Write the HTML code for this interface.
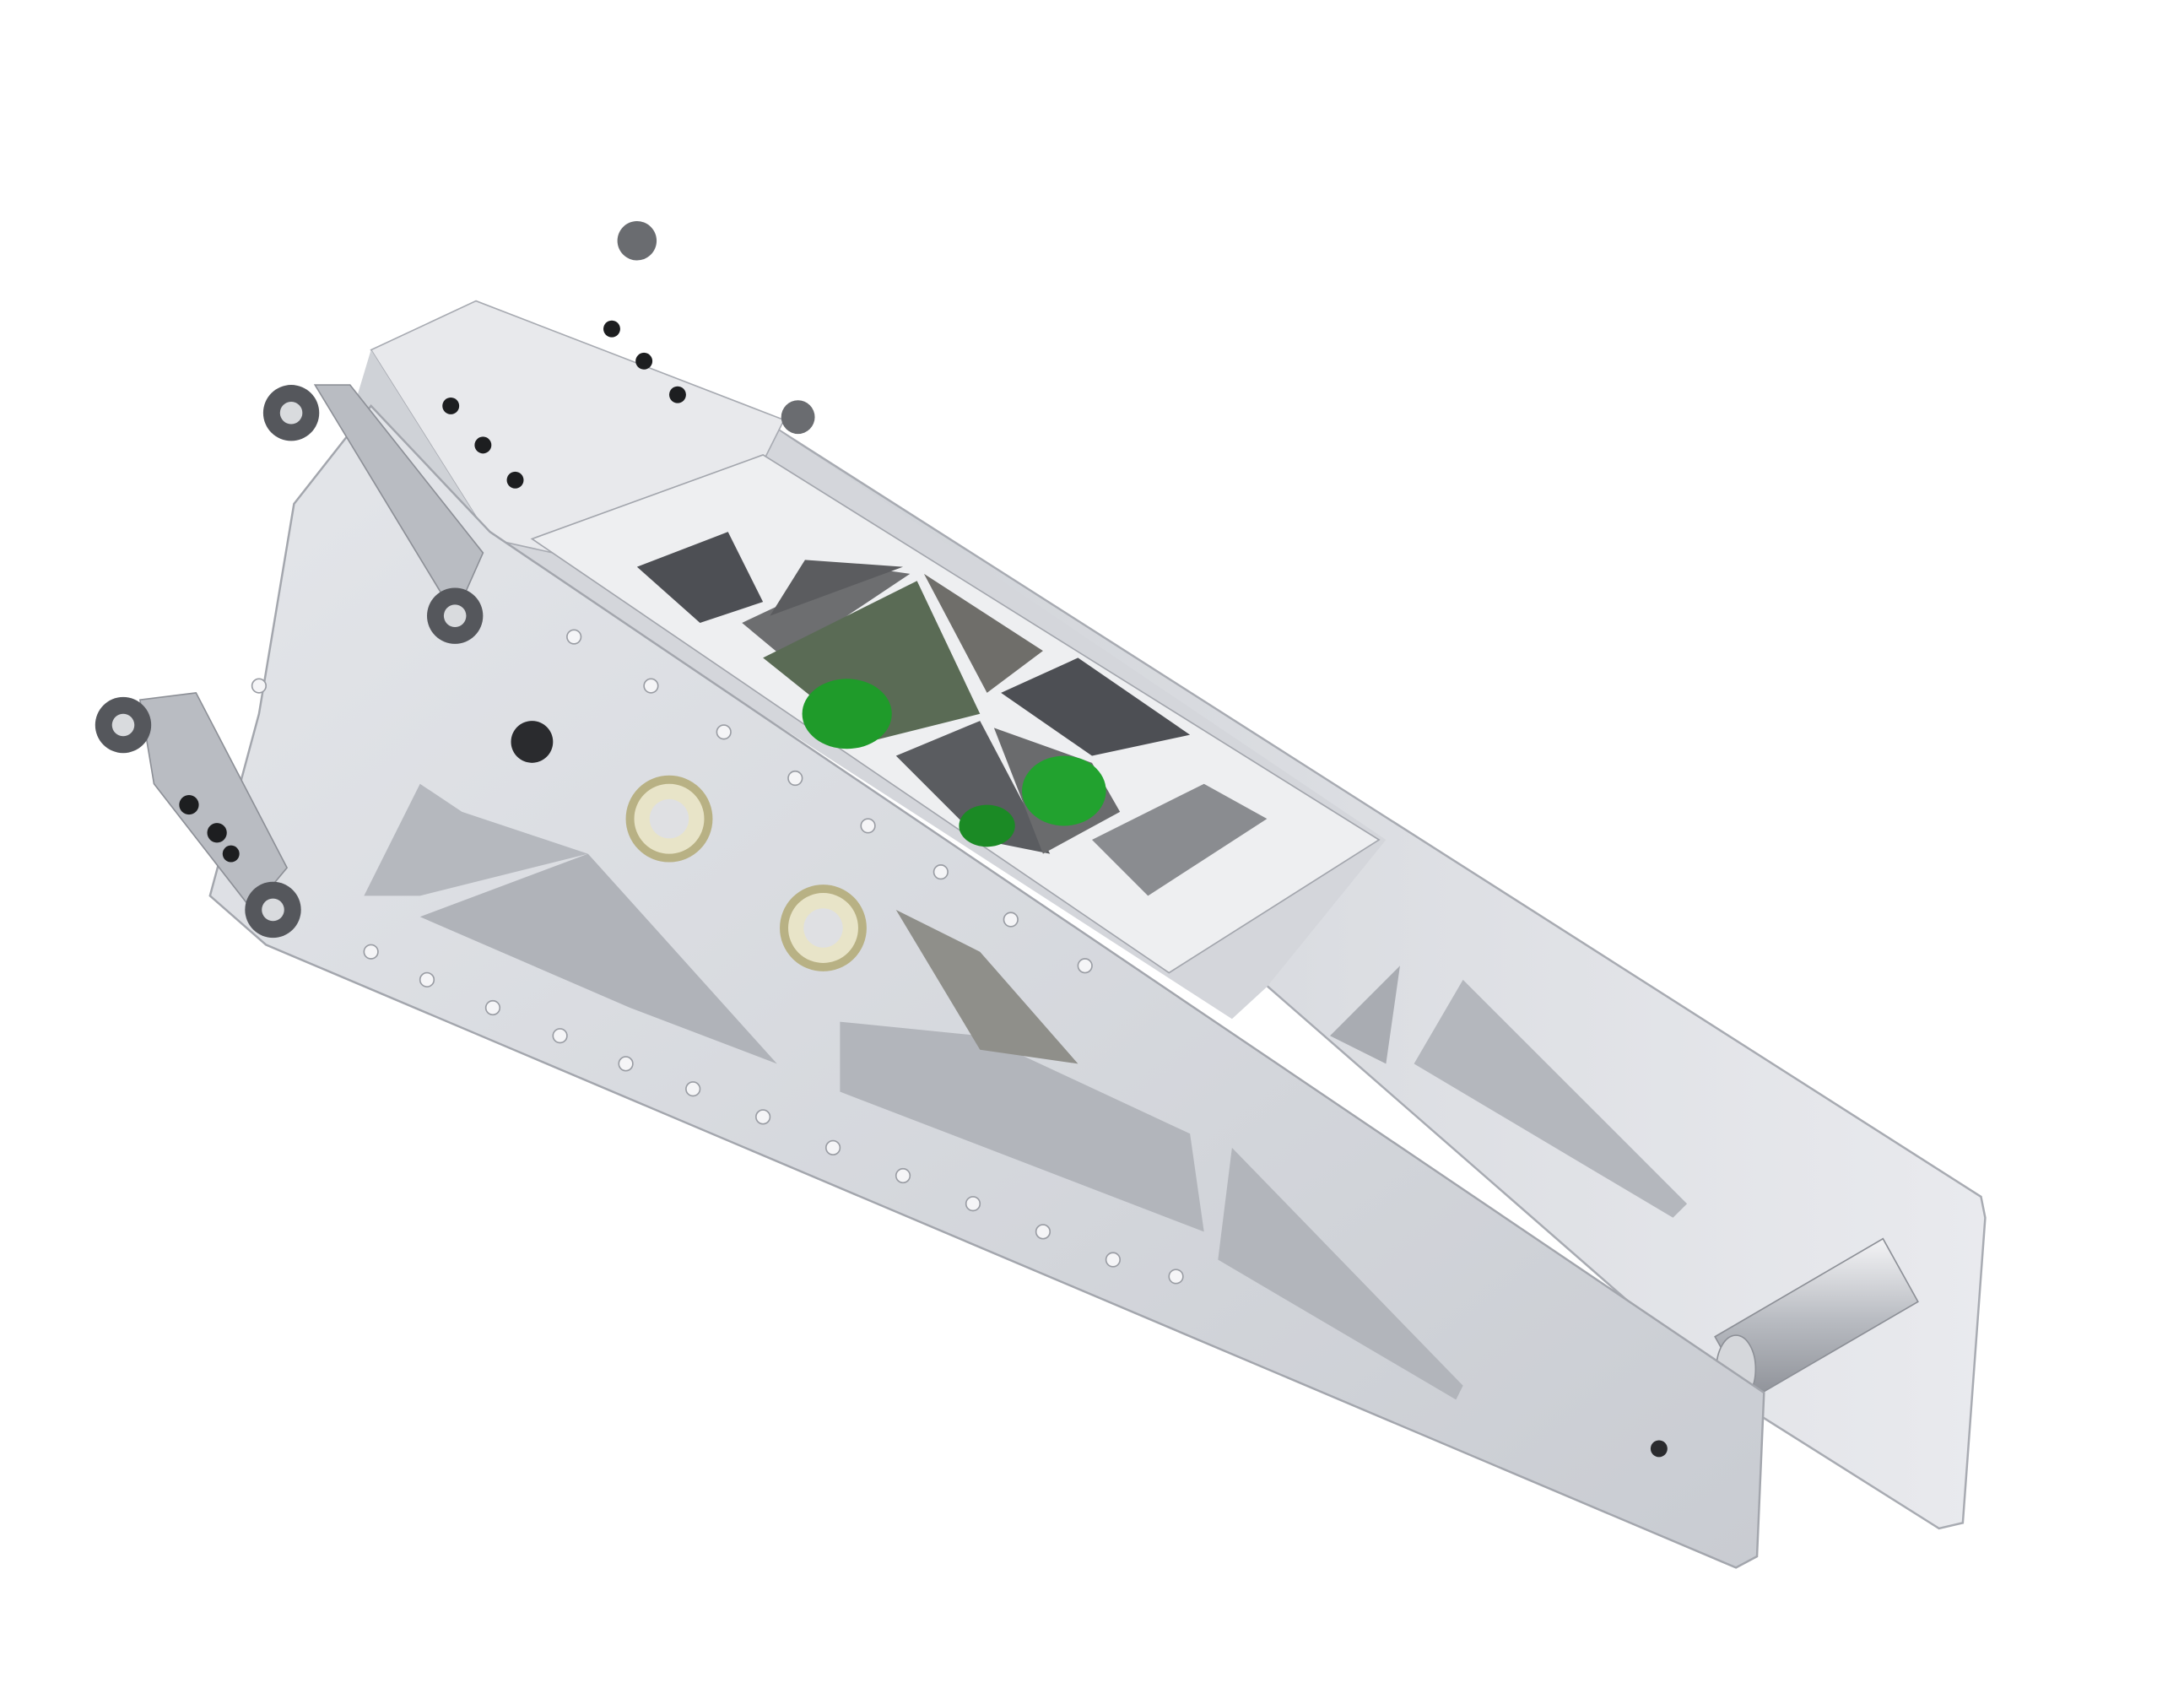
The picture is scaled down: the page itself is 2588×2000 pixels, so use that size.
<!DOCTYPE html>
<html><head><meta charset="utf-8"><style>
html,body{margin:0;padding:0;background:#fff;}
svg{display:block;}
</style></head><body>
<svg width="2588" height="2000" viewBox="0 0 1560 1206" preserveAspectRatio="none" xmlns="http://www.w3.org/2000/svg">
<defs>
<linearGradient id="plate" x1="0" y1="0" x2="1" y2="1"><stop offset="0" stop-color="#e4e6ea"/><stop offset="1" stop-color="#c9ccd2"/></linearGradient>
<linearGradient id="back" x1="0" y1="0" x2="1" y2="0"><stop offset="0" stop-color="#cfd2d7"/><stop offset="1" stop-color="#e9eaee"/></linearGradient>
<linearGradient id="rod" x1="0" y1="0" x2="0" y2="1"><stop offset="0" stop-color="#f4f4f6"/><stop offset="0.5" stop-color="#b9bcc2"/><stop offset="1" stop-color="#8d9097"/></linearGradient>
</defs>
<rect x="0" y="0" width="1560" height="1206" fill="#ffffff"/>
<polygon points="545,300 1415,855 1418,870 1402,1088 1385,1092 1255,1010 900,700" fill="url(#back)" stroke="#a8abb2" stroke-width="1.5"/>
<polygon points="1045,700 1205,860 1195,870 1010,760" fill="#b4b7bd"/>
<polygon points="1000,690 990,760 950,740" fill="#a9acb2"/>
<polygon points="1225,955 1345,885 1370,930 1250,1000" fill="url(#rod)" stroke="#8d9097"/>
<ellipse cx="1240" cy="978" rx="14" ry="24" fill="#d5d7db" stroke="#8d9097"/>
<polygon points="545,300 990,600 905,705 880,728 350,385" fill="#d4d6db"/>
<polygon points="250,640 420,580 880,790 700,880 300,690" fill="#c3c6cc"/>
<polygon points="265,250 340,215 560,300 545,330 395,395 350,385" fill="#e8e9ec" stroke="#a8abb2"/>
<polygon points="265,250 350,385 330,420 250,300" fill="#cfd2d7"/>
<polygon points="210,360 265,290 350,380 1260,995 1255,1112 1240,1120 190,675 150,640 185,510" fill="url(#plate)" stroke="#a3a6ad" stroke-width="1.5"/>
<polygon points="300,560 330,580 420,610 300,640 260,640" fill="#b5b8be"/>
<polygon points="420,610 555,760 450,720 300,655" fill="#b0b3b9"/>
<polygon points="600,730 700,740 850,810 860,880 600,780" fill="#b2b5bb"/>
<polygon points="640,650 700,680 770,760 700,750" fill="#8f8f8a"/>
<polygon points="880,820 1045,990 1040,1000 870,900" fill="#b2b5bb"/>
<polygon points="380,385 545,325 985,600 835,695" fill="#eeeff1" stroke="#a3a6ad"/>
<polygon points="455,405 520,380 545,430 500,445" fill="#4d4f54"/>
<polygon points="530,445 615,405 650,410 560,470" fill="#6d6e70"/>
<polygon points="575,400 645,405 550,440" fill="#5b5c5f"/>
<polygon points="545,470 655,415 700,510 620,530" fill="#5a6b55"/>
<polygon points="660,410 745,465 705,495" fill="#6f6e6a"/>
<polygon points="715,495 770,470 850,525 780,540" fill="#4d4f54"/>
<polygon points="640,540 700,515 750,610 700,600" fill="#5a5c60"/>
<polygon points="710,520 780,545 800,580 745,610" fill="#6a6b6d"/>
<polygon points="780,600 860,560 905,585 820,640" fill="#8a8c90"/>
<ellipse cx="605" cy="510" rx="32" ry="25" fill="#1f9b2a"/>
<ellipse cx="760" cy="565" rx="30" ry="25" fill="#22a22f"/>
<ellipse cx="705" cy="590" rx="20" ry="15" fill="#1b8a25"/>
<circle cx="478" cy="585" r="28" fill="#e8e4c8" stroke="#b8b184" stroke-width="6"/>
<circle cx="478" cy="585" r="14" fill="#dfe0e3"/>
<circle cx="588" cy="663" r="28" fill="#e8e4c8" stroke="#b8b184" stroke-width="6"/>
<circle cx="588" cy="663" r="14" fill="#dfe0e3"/>
<circle cx="380" cy="530" r="15" fill="#2a2b2e"/>
<circle cx="1185" cy="1035" r="6" fill="#2a2b2e"/>
<g fill="#f5f5f7" stroke="#9a9da4">
<circle cx="410" cy="455" r="5"/><circle cx="465" cy="490" r="5"/><circle cx="517" cy="523" r="5"/><circle cx="568" cy="556" r="5"/><circle cx="620" cy="590" r="5"/><circle cx="672" cy="623" r="5"/><circle cx="722" cy="657" r="5"/><circle cx="775" cy="690" r="5"/>
</g>
<g fill="#f5f5f7" stroke="#9a9da4">
<circle cx="265" cy="680" r="5"/><circle cx="305" cy="700" r="5"/><circle cx="352" cy="720" r="5"/><circle cx="400" cy="740" r="5"/><circle cx="447" cy="760" r="5"/><circle cx="495" cy="778" r="5"/><circle cx="545" cy="798" r="5"/><circle cx="595" cy="820" r="5"/><circle cx="645" cy="840" r="5"/><circle cx="695" cy="860" r="5"/><circle cx="745" cy="880" r="5"/><circle cx="795" cy="900" r="5"/><circle cx="840" cy="912" r="5"/><circle cx="185" cy="490" r="5"/>
</g>
<g fill="#1d1e20">
<circle cx="322" cy="290" r="6"/><circle cx="345" cy="318" r="6"/><circle cx="368" cy="343" r="6"/><circle cx="437" cy="235" r="6"/><circle cx="460" cy="258" r="6"/><circle cx="484" cy="282" r="6"/>
</g>
<g>
<polygon points="225,275 250,275 345,395 325,440" fill="#b9bcc2" stroke="#8d9097"/>
<circle cx="208" cy="295" r="20" fill="#55575c"/><circle cx="208" cy="295" r="8" fill="#d9dbde"/>
<circle cx="325" cy="440" r="20" fill="#55575c"/><circle cx="325" cy="440" r="8" fill="#d9dbde"/>
<circle cx="455" cy="172" r="14" fill="#6a6c70"/><circle cx="570" cy="298" r="12" fill="#6a6c70"/>
</g>
<g>
<polygon points="100,500 140,495 205,620 180,650 110,560" fill="#b9bcc2" stroke="#8d9097"/>
<circle cx="88" cy="518" r="20" fill="#55575c"/><circle cx="88" cy="518" r="8" fill="#d9dbde"/>
<circle cx="195" cy="650" r="20" fill="#55575c"/><circle cx="195" cy="650" r="8" fill="#d9dbde"/>
<circle cx="135" cy="575" r="7" fill="#1d1e20"/><circle cx="155" cy="595" r="7" fill="#1d1e20"/><circle cx="165" cy="610" r="6" fill="#1d1e20"/>
</g>
</svg>
</body></html>
